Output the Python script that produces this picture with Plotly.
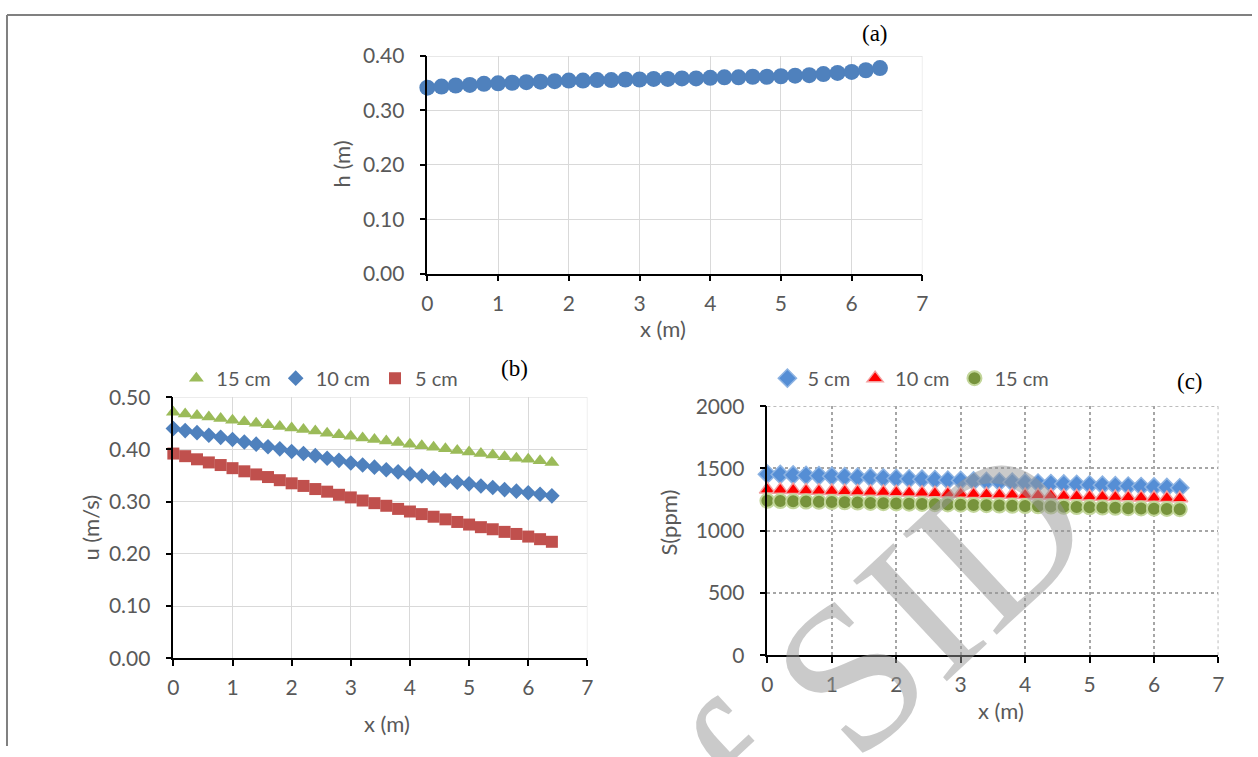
import plotly.graph_objects as go

W, H = 1258, 757

# ---------------- data ----------------
x_m = [0.0, 0.2, 0.4, 0.6, 0.8, 1.0, 1.2, 1.4, 1.6, 1.8, 2.0, 2.2, 2.4, 2.6, 2.8, 3.0,
       3.2, 3.4, 3.6, 3.8, 4.0, 4.2, 4.4, 4.6, 4.8, 5.0, 5.2, 5.4, 5.6, 5.8, 6.0, 6.2, 6.4]

# (a) water depth h (m)
h_m = [0.342, 0.344, 0.346, 0.347, 0.349, 0.350, 0.351, 0.352, 0.353, 0.354, 0.355,
       0.355, 0.356, 0.356, 0.357, 0.357, 0.358, 0.358, 0.359, 0.359, 0.360, 0.361,
       0.361, 0.362, 0.362, 0.363, 0.364, 0.365, 0.367, 0.369, 0.371, 0.374, 0.378]

# (b) velocity u (m/s)
u_15cm = [0.471, 0.468, 0.465, 0.462, 0.459, 0.456, 0.453, 0.450, 0.447, 0.444, 0.441,
          0.438, 0.435, 0.431, 0.428, 0.425, 0.422, 0.419, 0.416, 0.413, 0.410, 0.407,
          0.404, 0.401, 0.398, 0.395, 0.392, 0.389, 0.386, 0.383, 0.381, 0.378, 0.375]
u_10cm = [0.440, 0.436, 0.432, 0.427, 0.423, 0.419, 0.414, 0.410, 0.405, 0.401, 0.396,
          0.392, 0.388, 0.383, 0.379, 0.374, 0.370, 0.366, 0.361, 0.357, 0.353, 0.349,
          0.345, 0.341, 0.337, 0.334, 0.330, 0.327, 0.323, 0.320, 0.317, 0.314, 0.311]
u_5cm = [0.392, 0.387, 0.381, 0.375, 0.370, 0.364, 0.358, 0.352, 0.347, 0.341, 0.335,
         0.330, 0.324, 0.319, 0.313, 0.308, 0.302, 0.297, 0.292, 0.286, 0.281, 0.276,
         0.271, 0.266, 0.261, 0.256, 0.251, 0.247, 0.242, 0.238, 0.233, 0.228, 0.223]

# (c) salinity S (ppm)
s_5cm = [1454, 1451, 1447, 1444, 1441, 1437, 1434, 1430, 1427, 1423, 1420, 1416, 1413,
         1410, 1406, 1403, 1399, 1396, 1392, 1389, 1385, 1382, 1378, 1375, 1372, 1368,
         1365, 1361, 1358, 1354, 1351, 1347, 1344]
s_10cm = [1330, 1328, 1326, 1323, 1321, 1319, 1317, 1315, 1312, 1310, 1308, 1306, 1304,
          1301, 1299, 1297, 1295, 1293, 1290, 1288, 1286, 1284, 1282, 1279, 1277, 1275,
          1273, 1271, 1268, 1266, 1264, 1262, 1260]
s_15cm = [1240, 1238, 1236, 1234, 1232, 1230, 1228, 1226, 1223, 1221, 1219, 1217, 1215,
          1213, 1211, 1209, 1207, 1205, 1202, 1200, 1198, 1196, 1194, 1192, 1190, 1188,
          1186, 1184, 1181, 1179, 1177, 1175, 1173]

# ---------------- helpers ----------------
# target-picture pixel -> paper fraction (compensates the capture's inset/scale)
SX, OX = 0.9904, 5.66
SY, OY = 0.9668, 13.9

def px(x):
    return min(max(((x - OX) / SX) / W, 0.0), 1.0)

def py(y):
    return min(max(1 - ((y - OY) / SY) / H, 0.0), 1.0)

FONT = "Lato"
TICK_COL = "#595959"

fig = go.Figure()

# (a)
fig.add_trace(go.Scatter(x=x_m, y=h_m, mode="markers", xaxis="x", yaxis="y",
                         marker=dict(symbol="circle", size=16, color="#4F81BD"),
                         showlegend=False, cliponaxis=False))

# (b)
fig.add_trace(go.Scatter(x=x_m, y=u_15cm, mode="markers", name="15 cm", xaxis="x2", yaxis="y2",
                         marker=dict(symbol="triangle-up", size=13, color="#9BBB59"),
                         legend="legend", cliponaxis=False))
fig.add_trace(go.Scatter(x=x_m, y=u_10cm, mode="markers", name="10 cm", xaxis="x2", yaxis="y2",
                         marker=dict(symbol="diamond", size=12, color="#4F81BD"),
                         legend="legend", cliponaxis=False))
fig.add_trace(go.Scatter(x=x_m, y=u_5cm, mode="markers", name="5 cm", xaxis="x2", yaxis="y2",
                         marker=dict(symbol="square", size=12, color="#C0504D"),
                         legend="legend", cliponaxis=False))

# (c)
fig.add_trace(go.Scatter(x=x_m, y=s_5cm, mode="markers", name="5 cm", xaxis="x3", yaxis="y3",
                         marker=dict(symbol="diamond", size=14, color="#558ED5",
                                     line=dict(color="#8DB3E2", width=1.5)),
                         legend="legend2", cliponaxis=False))
fig.add_trace(go.Scatter(x=x_m, y=s_10cm, mode="markers", name="10 cm", xaxis="x3", yaxis="y3",
                         marker=dict(symbol="triangle-up", size=14, color="#FF0000",
                                     line=dict(color="#F2A0A0", width=1.5)),
                         legend="legend2", cliponaxis=False))
fig.add_trace(go.Scatter(x=x_m, y=s_15cm, mode="markers", name="15 cm", xaxis="x3", yaxis="y3",
                         marker=dict(symbol="circle", size=14, color="#77933C",
                                     line=dict(color="#C3D69B", width=2)),
                         legend="legend2", cliponaxis=False))

def xaxis(domain, anchor, gridcol, dash="solid", gw=1):
    return dict(domain=domain, anchor=anchor, range=[0, 7], dtick=1, tick0=0,
                showline=True, linecolor="black", linewidth=1.5,
                ticks="outside", ticklen=6, tickcolor="black", tickwidth=1.5,
                showgrid=True, gridcolor=gridcol, griddash=dash, gridwidth=gw,
                zeroline=False, ticklabelstandoff=4,
                tickfont=dict(family=FONT, size=21, color=TICK_COL))

def yaxis(domain, anchor, rng, dtick, fmt, gridcol, dash="solid", gw=1):
    return dict(domain=domain, anchor=anchor, range=rng, dtick=dtick, tick0=0,
                tickformat=fmt,
                showline=True, linecolor="black", linewidth=1.5,
                ticks="outside", ticklen=6, tickcolor="black", tickwidth=1.5,
                showgrid=True, gridcolor=gridcol, griddash=dash, gridwidth=gw,
                zeroline=False, ticklabelstandoff=11,
                tickfont=dict(family=FONT, size=21, color=TICK_COL))

fig.update_layout(
    width=W, height=H, margin=dict(l=0, r=0, t=0, b=0),
    paper_bgcolor="white", plot_bgcolor="white",
    font=dict(family=FONT, color=TICK_COL),
    xaxis=xaxis([px(427), px(922)], "y", "#D9D9D9"),
    yaxis=yaxis([py(273.5), py(56)], "x", [0, 0.4], 0.1, ".2f", "#D9D9D9"),
    xaxis2=xaxis([px(173), px(587)], "y2", "#D9D9D9"),
    yaxis2=yaxis([py(658), py(397)], "x2", [0, 0.5], 0.1, ".2f", "#D9D9D9"),
    xaxis3=xaxis([px(767), px(1218)], "y3", "#A6A6A6", "dot", 1.5),
    yaxis3=yaxis([py(655), py(406)], "x3", [0, 2000], 500, "d", "#A6A6A6", "dot", 1.5),
    legend=dict(orientation="h", x=px(176), y=py(378), xanchor="left", yanchor="middle",
                bgcolor="rgba(0,0,0,0)", font=dict(family=FONT, size=20, color=TICK_COL),
                itemwidth=30, tracegroupgap=0),
    legend2=dict(orientation="h", x=px(767), y=py(378), xanchor="left", yanchor="middle",
                 bgcolor="rgba(0,0,0,0)", font=dict(family=FONT, size=20, color=TICK_COL),
                 itemwidth=30, tracegroupgap=0),
)

# closing grid lines at the top / right ends of each plot area
for xa, ya, ytop, col, dash, gw in [("x", "y", 0.4, "#D9D9D9", "solid", 1),
                                    ("x2", "y2", 0.5, "#D9D9D9", "solid", 1),
                                    ("x3", "y3", 2000, "#A6A6A6", "dot", 1.5)]:
    fig.add_shape(type="line", xref=xa, yref=ya, x0=0, x1=7, y0=ytop, y1=ytop,
                  line=dict(color=col, width=gw, dash=dash), layer="below")
    fig.add_shape(type="line", xref=xa, yref=ya, x0=7, x1=7, y0=0, y1=ytop,
                  line=dict(color=col, width=gw, dash=dash), layer="below")

ann = []
def title(text, x, y, angle=0, size=22):
    ann.append(dict(text=text, x=px(x), y=py(y), xref="paper", yref="paper",
                    showarrow=False, textangle=angle, xanchor="center", yanchor="middle",
                    font=dict(family=FONT, size=size, color=TICK_COL)))

title("h (m)", 341, 164, -90)
title("x (m)", 663, 328)
title("u (m/s)", 90, 527, -90)
title("x (m)", 387, 723)
title("S(ppm)", 668, 522, -90)
title("x (m)", 1001, 710)

for lab, x, y in [("(a)", 875, 33), ("(b)", 514, 368), ("(c)", 1190, 381)]:
    ann.append(dict(text=lab, x=px(x), y=py(y), xref="paper", yref="paper",
                    showarrow=False, xanchor="center", yanchor="middle",
                    font=dict(family="Liberation Serif", size=23, color="black")))

# watermark
ann.append(dict(text="of SID", x=px(848), y=py(676), xref="paper", yref="paper",
                showarrow=False, textangle=-43, xanchor="center", yanchor="middle",
                font=dict(family="Liberation Serif", size=210, color="rgba(150,150,150,0.5)")))

fig.update_layout(annotations=ann)

# page frame lines (as close to the edges as the capture allows)
fig.add_shape(type="line", xref="paper", yref="paper", x0=1 / W, x1=1, y0=1 - 1 / H, y1=1 - 1 / H,
              line=dict(color="#808080", width=2))
fig.add_shape(type="line", xref="paper", yref="paper", x0=1 / W, x1=1 / W, y0=1 - 1 / H, y1=0,
              line=dict(color="#808080", width=2))

fig.write_html("out.html", config={"displayModeBar": False},
               post_script="document.body.style.margin='0';document.body.style.overflow='hidden';")
